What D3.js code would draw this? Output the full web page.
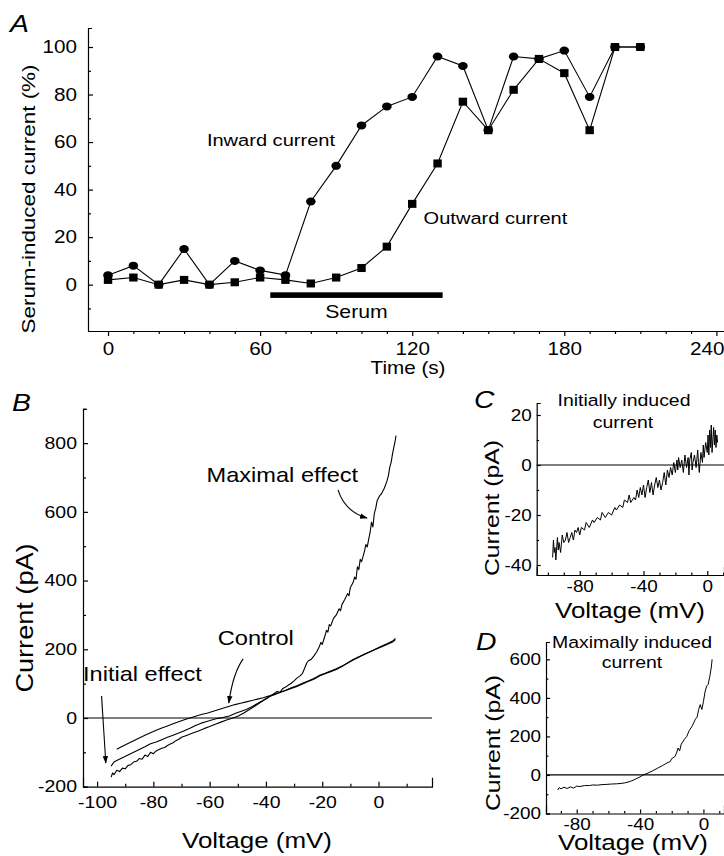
<!DOCTYPE html>
<html>
<head>
<meta charset="utf-8">
<script src="https://cdn.jsdelivr.net/npm/d3@7"></script>
<style>
  body { margin: 0; background: #fff; }
  svg { display: block; }
</style>
</head>
<body>
<div id="fig"></div>
<script>
// ---- panel A : serum-induced current vs time ----
const timeA = [0, 10, 20, 30, 40, 50, 60, 70, 80, 90, 100, 110, 120, 130, 140, 150, 160, 170, 180, 190, 200, 210];
const inwardA = [4, 8, 0, 15, 0, 10, 6, 4, 35, 50, 67, 75, 79, 96, 92, 65, 96, 95, 98.5, 79, 100, 100];
const outwardA = [2, 3, 0, 2, 0, 1, 3, 2, 0.5, 3, 7, 16, 34, 51, 77, 65, 82, 95, 89, 65, 100, 100];
const serumSpan = [64, 132];
const ticksAx = [0, 60, 120, 180, 240];
const ticksAy = [0, 20, 40, 60, 80, 100];

// ---- panel B : I-V curves (mV, pA) ----
const controlIV = [[-93,-91],[-91,-82],[-89,-74],[-87,-66],[-85,-58],[-83,-50],[-81,-43],[-79,-36],[-77,-29],[-75,-23],[-73,-17],[-71,-11],[-69,-5],[-67,0],[-65,5],[-63,10],[-61,14],[-59,19],[-57,24],[-55,29],[-53,34],[-51,39],[-49,43],[-47,47],[-45,51],[-43,55],[-41,59],[-39,64],[-37,69],[-35,74],[-33,80],[-31,86],[-29,92],[-27,99],[-25,106],[-23,113],[-21,122],[-19,129],[-17,135],[-15,141],[-13,150],[-11,160],[-9,170],[-7,178],[-5,185],[-3,193],[-1,200],[1,207],[3,214],[5,221],[6,228]];
const initialIV = [[-95,-140],[-94,-128],[-93,-124],[-91,-116],[-89,-108],[-87,-100],[-85,-92],[-83,-84],[-81,-75],[-79,-70],[-77,-63],[-75,-56],[-73,-50],[-71,-44],[-69,-37],[-67,-30],[-65,-22],[-63,-15],[-61,-10],[-59,-5],[-57,-1],[-55,2],[-53,6],[-51,13],[-49,19],[-47,25],[-45,33],[-43,42],[-41,52],[-39,62],[-37,68],[-35,75],[-33,81],[-31,88],[-29,94],[-27,101],[-25,108],[-23,115],[-21,124],[-19,130],[-17,137],[-15,143],[-13,151],[-11,160],[-9,169],[-7,177],[-5,186],[-3,193],[-1,201],[1,209],[3,216],[5,224],[6,232]];
const maximalIV = [[-95,-172],[-94.5,-160],[-94,-165],[-93,-152],[-92,-156],[-91,-146],[-90,-148],[-89,-138],[-88,-136],[-87,-128],[-86,-126],[-85,-118],[-84,-120],[-83,-108],[-82,-112],[-81,-100],[-80,-104],[-79,-96],[-78,-92],[-77,-88],[-76,-86],[-75,-80],[-74,-76],[-73,-72],[-72,-66],[-71,-62],[-70,-56],[-68,-50],[-66,-44],[-64,-38],[-62,-31],[-60,-25],[-58,-18],[-56,-12],[-54,-6],[-52,-1],[-50,5],[-48,14],[-46,24],[-44,34],[-42,45],[-40,55],[-38,66],[-36,77],[-35,75],[-34,86],[-33,90],[-32,96],[-31,101],[-30,108],[-29,116],[-28,122],[-27,130],[-26,150],[-25.5,160],[-25,166],[-24,170],[-23,180],[-22,192],[-21,208],[-20.5,220],[-20,214],[-19,240],[-18.5,255],[-18,250],[-17.5,272],[-17,268],[-16,290],[-15,300],[-14,318],[-13.5,312],[-13,330],[-12,345],[-11,362],[-10.5,356],[-10,380],[-9,395],[-8.5,410],[-8,404],[-7.5,440],[-7,432],[-6.5,462],[-6,455],[-5,485],[-4.5,505],[-4,498],[-3.5,520],[-3,540],[-2.5,570],[-2,556],[-1.5,595],[-1,610],[-0.5,632],[0,640],[0.5,648],[1,652],[1.5,660],[2,668],[2.5,678],[3,690],[3.5,705],[4,730],[4.5,745],[5,770],[5.5,790],[6,810],[6.2,822]];
const ticksBx = [-100, -80, -60, -40, -20, 0];
const ticksBy = [-200, 0, 200, 400, 600, 800];

// ---- panel C : initially induced current ----
const initInducedIV = [[-97,-37],[-96.5,-30],[-96,-35],[-95.5,-33],[-95,-38],[-94,-29],[-93.5,-34],[-93,-31],[-92,-35],[-91,-28],[-90,-31],[-89,-30],[-88,-27],[-87,-31],[-86,-29],[-85,-27],[-84,-30],[-83,-26],[-82,-27],[-81,-25],[-80,-28],[-79,-25],[-77,-26],[-76,-23],[-74,-25],[-72,-22],[-71,-23],[-69,-21],[-67,-22],[-66,-19],[-64,-21],[-62,-19],[-60,-20],[-58,-17],[-57,-18],[-55,-16],[-53,-17],[-52,-14],[-50,-15],[-49,-12],[-48,-15],[-46,-13],[-45,-14],[-44,-10],[-43,-13],[-42,-9],[-41,-12],[-40,-8],[-39,-13],[-38,-9],[-37,-6],[-36,-11],[-35,-7],[-34,-12],[-33,-8],[-32,-5],[-31,-9],[-30,-6],[-29,-10],[-28,-7],[-27,-3],[-26,-8],[-25,-2],[-24,-5],[-23,-1],[-22,-4],[-21,1],[-20,-3],[-19,2],[-18.5,-2],[-18,3],[-17,-1],[-16,2],[-15,-3],[-14,4],[-13,-1],[-12,3],[-11.5,-4],[-11,2],[-10,5],[-9.5,-2],[-9,1],[-8,4],[-7,-1],[-6,6],[-5.5,1],[-5,-3],[-4,5],[-3,1],[-2.5,8],[-2,3],[-1,9],[0,5],[0.5,12],[1,4],[1.5,14],[2,7],[2.5,16],[3,5],[4,15],[4.5,8],[5,14],[5.5,7],[6,12],[6.5,9]];
const ticksCx = [-80, -40, 0];
const ticksCy = [-40, -20, 0, 20];

// ---- panel D : maximally induced current ----
const maxInducedIV = [[-92,-78],[-91,-65],[-90,-72],[-88,-64],[-86,-70],[-84,-62],[-82,-68],[-80,-58],[-78,-60],[-75,-55],[-72,-55],[-70,-52],[-67,-53],[-64,-50],[-61,-49],[-58,-47],[-55,-46],[-52,-44],[-49,-40],[-46,-33],[-43,-22],[-40,-10],[-38,0],[-35,10],[-32,22],[-29,35],[-26,48],[-23,62],[-21,70],[-20,85],[-18,95],[-17,113],[-16,140],[-15,125],[-14,160],[-12,185],[-10.5,200],[-9,230],[-7,255],[-5,290],[-4,300],[-3,340],[-2,365],[-1,340],[0,380],[1,430],[2,461],[3,470],[4,510],[5,560],[5.5,600]];
const ticksDx = [-80, -40, 0];
const ticksDy = [-200, 0, 200, 400, 600];

const W = 724, H = 856;
const SX = 1.18; // scanned lettering is wider than Helvetica
const FONT = "'Liberation Sans', Arial, Helvetica, sans-serif";

const svg = d3.select('#fig').append('svg')
    .attr('width', W).attr('height', H)
    .attr('font-family', FONT);
svg.append('rect').attr('width', W).attr('height', H).attr('fill', '#fff');

svg.append('defs').append('marker')
    .attr('id', 'arr').attr('viewBox', '0 0 10 10')
    .attr('refX', 9).attr('refY', 5)
    .attr('markerWidth', 7).attr('markerHeight', 7)
    .attr('orient', 'auto')
  .append('path').attr('d', 'M0,1.5L10,5L0,8.5Z').attr('fill', '#000');

function label(str, x, y, size, anchor, rot, italic) {
    svg.append('text')
        .attr('transform', `translate(${x},${y}) rotate(${rot || 0}) scale(${SX},1)`)
        .attr('font-size', size)
        .attr('text-anchor', anchor || 'start')
        .style('font-style', italic ? 'italic' : null)
        .attr('fill', '#000')
        .text(str);
}

function stretchTicks(g, size) {
    g.selectAll('text').attr('font-size', size).attr('fill', '#000')
        .each(function() {
            const t = d3.select(this);
            const x = +t.attr('x') || 0, y = +t.attr('y') || 0;
            t.attr('x', null).attr('y', null)
             .attr('transform', `translate(${x},${y}) scale(${SX},1)`);
        });
    g.attr('font-family', FONT);
    g.selectAll('path, line').attr('stroke', '#000').attr('stroke-width', 1.2);
}

function minors(domain, step, majors) {
    return d3.range(Math.ceil(domain[0] / step) * step, domain[1] + 1e-9, step)
        .filter(v => !majors.includes(v));
}

function drawAxes(x, y, o) {
    const left = x.range()[0], bottom = y.range()[0];
    const fmt = d => String(d);

    const ya = svg.append('g').attr('transform', `translate(${left},0)`)
        .call(d3.axisLeft(y).tickValues(o.yMajor).tickFormat(fmt)
            .tickSize(-o.ySize).tickSizeOuter(-4).tickPadding(o.yPad));
    stretchTicks(ya, o.font);
    const ym = svg.append('g').attr('transform', `translate(${left},0)`)
        .call(d3.axisLeft(y).tickValues(minors(y.domain(), o.yStep, o.yMajor))
            .tickFormat('').tickSize(-o.ySize * 0.6));
    ym.select('.domain').remove();
    stretchTicks(ym, o.font);

    const xa = svg.append('g').attr('transform', `translate(0,${bottom})`)
        .call(d3.axisBottom(x).tickValues(o.xMajor).tickFormat(fmt)
            .tickSize(o.xSize).tickSizeOuter(o.xOuter).tickPadding(o.xPad));
    stretchTicks(xa, o.font);
    const xm = svg.append('g').attr('transform', `translate(0,${bottom})`)
        .call(d3.axisBottom(x).tickValues(minors(x.domain(), o.xStep, o.xMajor))
            .tickFormat('').tickSize(o.xSize * 0.6));
    xm.select('.domain').remove();
    stretchTicks(xm, o.font);
    return xa;
}

function zeroLine(x, y) {
    svg.append('line')
        .attr('x1', x.range()[0]).attr('x2', x.range()[1])
        .attr('y1', y(0)).attr('y2', y(0))
        .attr('stroke', '#000').attr('stroke-width', 1.2);
}

function trace(x, y, pts, w) {
    svg.append('path').datum(pts)
        .attr('d', d3.line().x(d => x(d[0])).y(d => y(d[1])))
        .attr('fill', 'none').attr('stroke', '#000')
        .attr('stroke-width', w || 1.1).attr('stroke-linejoin', 'round');
}

function arrow(x, y, from, ctrl, to) {
    const p = d3.path();
    p.moveTo(x(from[0]), y(from[1]));
    if (ctrl) p.quadraticCurveTo(x(ctrl[0]), y(ctrl[1]), x(to[0]), y(to[1]));
    else p.lineTo(x(to[0]), y(to[1]));
    svg.append('path').attr('d', p.toString())
        .attr('fill', 'none').attr('stroke', '#000').attr('stroke-width', 1.1)
        .attr('marker-end', 'url(#arr)');
}

// ================= Panel A =================
const xA = d3.scaleLinear().domain([-7.9, 243]).range([88, 724]);
const yA = d3.scaleLinear().domain([-19.5, 108]).range([331, 28]);

const xAxisA = drawAxes(xA, yA, {
    xMajor: ticksAx, xStep: 10, xSize: 5, xOuter: 0, xPad: 7,
    yMajor: ticksAy, yStep: 10, ySize: 5, yPad: 11, font: 17.5
});
// last label sits against the right edge, as in the original
xAxisA.selectAll('.tick').filter(d => d === 240).select('text')
    .attr('text-anchor', 'end')
    .attr('transform', `translate(${724 - xA(240)},12) scale(${SX},1)`);

const seriesA = [
    { vals: inwardA, shape: 'circle' },
    { vals: outwardA, shape: 'square' }
];
seriesA.forEach(s => {
    svg.append('path').datum(timeA.map((t, i) => [t, s.vals[i]]))
        .attr('d', d3.line().x(d => xA(d[0])).y(d => yA(d[1])))
        .attr('fill', 'none').attr('stroke', '#000').attr('stroke-width', 1.1);
});
svg.append('g').selectAll('ellipse')
    .data(timeA.map((t, i) => [t, inwardA[i]]))
    .join('ellipse')
    .attr('cx', d => xA(d[0])).attr('cy', d => yA(d[1]))
    .attr('rx', 4.8).attr('ry', 4).attr('fill', '#000');
svg.append('g').selectAll('rect')
    .data(timeA.map((t, i) => [t, outwardA[i]]))
    .join('rect')
    .attr('x', d => xA(d[0]) - 4.2).attr('y', d => yA(d[1]) - 4)
    .attr('width', 8.4).attr('height', 8).attr('fill', '#000');

// serum bar
svg.append('rect')
    .attr('x', xA(serumSpan[0])).attr('width', xA(serumSpan[1]) - xA(serumSpan[0]))
    .attr('y', yA(-4.4) - 2.8).attr('height', 5.6).attr('fill', '#000');
label('Serum', xA((serumSpan[0] + serumSpan[1]) / 2), yA(-14), 18, 'middle');
label('Inward current', xA(39), yA(58.4), 17, 'start');
label('Outward current', xA(124.5), yA(25.5), 17, 'start');
label('Serum-induced current (%)', 35, 199, 19, 'middle', -90);
label('Time (s)', 408, 374, 17.5, 'middle');
label('A', 10, 32, 24, 'start', 0, true);

// ================= Panel B =================
const xB = d3.scaleLinear().domain([-105, 19]).range([83, 432]);
const yB = d3.scaleLinear().domain([-200, 900]).range([786.7, 408.8]);

drawAxes(xB, yB, {
    xMajor: ticksBx, xStep: 10, xSize: -5, xOuter: -9, xPad: 9.6,
    yMajor: ticksBy, yStep: 100, ySize: 5, yPad: 6, font: 16.5
});
zeroLine(xB, yB);
trace(xB, yB, controlIV);
trace(xB, yB, initialIV);
trace(xB, yB, maximalIV);

label('Maximal effect', xB(-61.1), yB(686), 20, 'start');
arrow(xB, yB, [-14.4, 664], [-11.9, 600], [-4.1, 582]);
label('Control', xB(-57.1), yB(212), 20, 'start');
arrow(xB, yB, [-48.1, 172], [-51.7, 131], [-53.2, 44]);
label('Initial effect', xB(-105), yB(108), 20, 'start');
arrow(xB, yB, [-98.4, 64], null, [-96.9, -131]);

label('Current (pA)', 33, 618, 23, 'middle', -90);
label('Voltage (mV)', 257, 848, 22, 'middle');
label('B', 12, 411, 24, 'start', 0, true);

// ================= Panel C =================
const xC = d3.scaleLinear().domain([-107, 10.5]).range([536.7, 724]);
const yC = d3.scaleLinear().domain([-44, 24.8]).range([575, 403]);

drawAxes(xC, yC, {
    xMajor: ticksCx, xStep: 10, xSize: -4, xOuter: -8, xPad: 6,
    yMajor: ticksCy, yStep: 10, ySize: 4, yPad: 5, font: 16
});
zeroLine(xC, yC);
trace(xC, yC, initInducedIV, 1);

label('Initially induced', 624, 406, 16.5, 'middle');
label('current', 623, 428, 16.5, 'middle');
label('Current (pA)', 499, 508, 21, 'middle', -90);
label('Voltage (mV)', 630, 618, 22, 'middle');
label('C', 474, 408, 24, 'start', 0, true);

// ================= Panel D =================
const xD = d3.scaleLinear().domain([-99.4, 13]).range([546, 724]);
const yD = d3.scaleLinear().domain([-200, 690]).range([813.5, 642]);

drawAxes(xD, yD, {
    xMajor: ticksDx, xStep: 10, xSize: -4, xOuter: -8, xPad: 5,
    yMajor: ticksDy, yStep: 100, ySize: 4, yPad: 5, font: 16
});
zeroLine(xD, yD);
trace(xD, yD, maxInducedIV, 1);

label('Maximally induced', 632, 648, 16.5, 'middle');
label('current', 632, 668, 16.5, 'middle');
label('Current (pA)', 500, 743, 21, 'middle', -90);
label('Voltage (mV)', 633, 850, 22, 'middle');
label('D', 476, 650, 24, 'start', 0, true);
</script>
</body>
</html>
